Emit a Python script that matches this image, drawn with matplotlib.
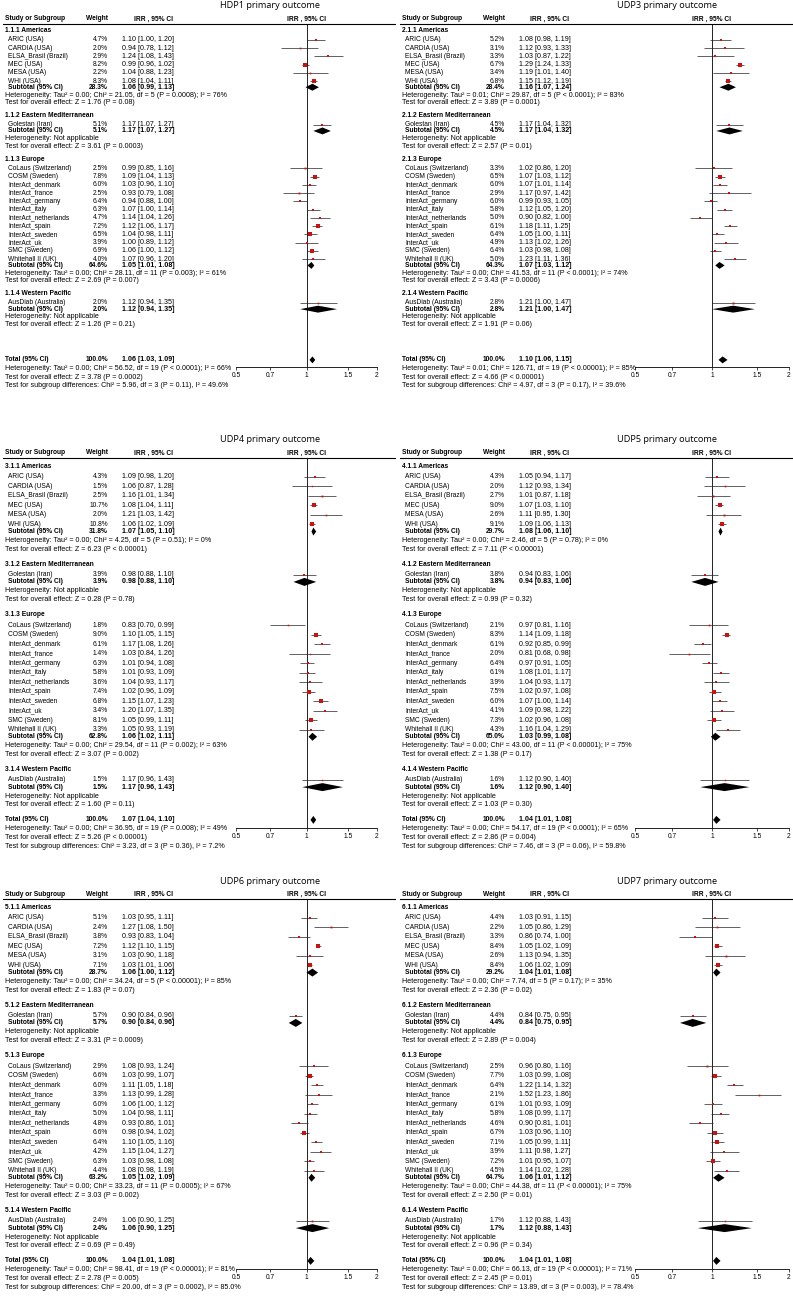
import matplotlib
matplotlib.use('Agg')
import matplotlib.pyplot as plt
from matplotlib.ticker import FixedLocator, NullLocator, FixedFormatter

plt.rcParams['font.family'] = ['Liberation Sans', 'DejaVu Sans']

groups = ['Americas', 'Eastern Mediterranean', 'Europe', 'Western Pacific']
group_sizes = [6, 1, 12, 1]
studies = ['ARIC (USA)', 'CARDIA (USA)', 'ELSA_Brasil (Brazil)', 'MEC (USA)', 'MESA (USA)', 'WHI (USA)',
           'Golestan (Iran)',
           'CoLaus (Switzerland)', 'COSM (Sweden)', 'InterAct_denmark', 'InterAct_france',
           'InterAct_germany', 'InterAct_italy', 'InterAct_netherlands', 'InterAct_spain',
           'InterAct_sweden', 'InterAct_uk', 'SMC (Sweden)', 'Whitehall II (UK)',
           'AusDiab (Australia)']

# (weight %, IRR, lower, upper) for each study
hdp1 = [(4.7, 1.10, 1.00, 1.20), (2.0, 0.94, 0.78, 1.12), (2.9, 1.24, 1.08, 1.43), (8.2, 0.99, 0.96, 1.02),
        (2.2, 1.04, 0.88, 1.23), (8.3, 1.08, 1.04, 1.11),
        (5.1, 1.17, 1.07, 1.27),
        (2.5, 0.99, 0.85, 1.16), (7.8, 1.09, 1.04, 1.13), (6.0, 1.03, 0.96, 1.10), (2.5, 0.93, 0.79, 1.08),
        (6.4, 0.94, 0.88, 1.00), (6.3, 1.07, 1.00, 1.14), (4.7, 1.14, 1.04, 1.26), (7.2, 1.12, 1.06, 1.17),
        (6.5, 1.04, 0.98, 1.11), (3.9, 1.00, 0.89, 1.12), (6.9, 1.06, 1.00, 1.12), (4.0, 1.07, 0.96, 1.20),
        (2.0, 1.12, 0.94, 1.35)]
hdp1_pooled = [(28.3, 1.06, 0.99, 1.13), (5.1, 1.17, 1.07, 1.27), (64.6, 1.05, 1.01, 1.08),
               (2.0, 1.12, 0.94, 1.35), (100.0, 1.06, 1.03, 1.09)]
hdp1_het = ['Tau\u00b2 = 0.00; Chi\u00b2 = 21.05, df = 5 (P = 0.0008); I\u00b2 = 76%', None,
            'Tau\u00b2 = 0.00; Chi\u00b2 = 28.11, df = 11 (P = 0.003); I\u00b2 = 61%', None,
            'Tau\u00b2 = 0.00; Chi\u00b2 = 56.52, df = 19 (P < 0.0001); I\u00b2 = 66%']
hdp1_z = ['Z = 1.76 (P = 0.08)', 'Z = 3.61 (P = 0.0003)', 'Z = 2.69 (P = 0.007)',
          'Z = 1.26 (P = 0.21)', 'Z = 3.78 (P = 0.0002)']
hdp1_diff = 'Chi\u00b2 = 5.96, df = 3 (P = 0.11), I\u00b2 = 49.6%'

udp3 = [(5.2, 1.08, 0.98, 1.19), (3.1, 1.12, 0.93, 1.33), (3.3, 1.03, 0.87, 1.22), (6.7, 1.29, 1.24, 1.33),
        (3.4, 1.19, 1.01, 1.40), (6.8, 1.15, 1.12, 1.19),
        (4.5, 1.17, 1.04, 1.32),
        (3.3, 1.02, 0.86, 1.20), (6.5, 1.07, 1.03, 1.12), (6.0, 1.07, 1.01, 1.14), (2.9, 1.17, 0.97, 1.42),
        (6.0, 0.99, 0.93, 1.05), (5.8, 1.12, 1.05, 1.20), (5.0, 0.90, 0.82, 1.00), (6.1, 1.18, 1.11, 1.25),
        (6.4, 1.05, 1.00, 1.11), (4.9, 1.13, 1.02, 1.26), (6.4, 1.03, 0.98, 1.08), (5.0, 1.23, 1.11, 1.36),
        (2.8, 1.21, 1.00, 1.47)]
udp3_pooled = [(28.4, 1.16, 1.07, 1.24), (4.5, 1.17, 1.04, 1.32), (64.3, 1.07, 1.03, 1.12),
               (2.8, 1.21, 1.00, 1.47), (100.0, 1.10, 1.06, 1.15)]
udp3_het = ['Tau\u00b2 = 0.01; Chi\u00b2 = 29.87, df = 5 (P < 0.0001); I\u00b2 = 83%', None,
            'Tau\u00b2 = 0.00; Chi\u00b2 = 41.53, df = 11 (P < 0.0001); I\u00b2 = 74%', None,
            'Tau\u00b2 = 0.01; Chi\u00b2 = 126.71, df = 19 (P < 0.00001); I\u00b2 = 85%']
udp3_z = ['Z = 3.89 (P = 0.0001)', 'Z = 2.57 (P = 0.01)', 'Z = 3.43 (P = 0.0006)',
          'Z = 1.91 (P = 0.06)', 'Z = 4.66 (P < 0.00001)']
udp3_diff = 'Chi\u00b2 = 4.97, df = 3 (P = 0.17), I\u00b2 = 39.6%'

udp4 = [(4.3, 1.09, 0.98, 1.20), (1.5, 1.06, 0.87, 1.28), (2.5, 1.16, 1.01, 1.34), (10.7, 1.08, 1.04, 1.11),
        (2.0, 1.21, 1.03, 1.42), (10.8, 1.06, 1.02, 1.09),
        (3.9, 0.98, 0.88, 1.10),
        (1.8, 0.83, 0.70, 0.99), (9.0, 1.10, 1.05, 1.15), (6.1, 1.17, 1.08, 1.26), (1.4, 1.03, 0.84, 1.26),
        (6.3, 1.01, 0.94, 1.08), (5.8, 1.01, 0.93, 1.09), (3.6, 1.04, 0.93, 1.17), (7.4, 1.02, 0.96, 1.09),
        (6.8, 1.15, 1.07, 1.23), (3.4, 1.20, 1.07, 1.35), (8.1, 1.05, 0.99, 1.11), (3.3, 1.05, 0.93, 1.19),
        (1.5, 1.17, 0.96, 1.43)]
udp4_pooled = [(31.8, 1.07, 1.05, 1.10), (3.9, 0.98, 0.88, 1.10), (62.8, 1.06, 1.02, 1.11),
               (1.5, 1.17, 0.96, 1.43), (100.0, 1.07, 1.04, 1.10)]
udp4_het = ['Tau\u00b2 = 0.00; Chi\u00b2 = 4.25, df = 5 (P = 0.51); I\u00b2 = 0%', None,
            'Tau\u00b2 = 0.00; Chi\u00b2 = 29.54, df = 11 (P = 0.002); I\u00b2 = 63%', None,
            'Tau\u00b2 = 0.00; Chi\u00b2 = 36.95, df = 19 (P = 0.008); I\u00b2 = 49%']
udp4_z = ['Z = 6.23 (P < 0.00001)', 'Z = 0.28 (P = 0.78)', 'Z = 3.07 (P = 0.002)',
          'Z = 1.60 (P = 0.11)', 'Z = 5.26 (P < 0.00001)']
udp4_diff = 'Chi\u00b2 = 3.23, df = 3 (P = 0.36), I\u00b2 = 7.2%'

udp5 = [(4.3, 1.05, 0.94, 1.17), (2.0, 1.12, 0.93, 1.34), (2.7, 1.01, 0.87, 1.18), (9.0, 1.07, 1.03, 1.10),
        (2.6, 1.11, 0.95, 1.30), (9.1, 1.09, 1.06, 1.13),
        (3.8, 0.94, 0.83, 1.06),
        (2.1, 0.97, 0.81, 1.16), (8.3, 1.14, 1.09, 1.18), (6.1, 0.92, 0.85, 0.99), (2.0, 0.81, 0.68, 0.98),
        (6.4, 0.97, 0.91, 1.05), (6.1, 1.08, 1.01, 1.17), (3.9, 1.04, 0.93, 1.17), (7.5, 1.02, 0.97, 1.08),
        (6.0, 1.07, 1.00, 1.14), (4.1, 1.09, 0.98, 1.22), (7.3, 1.02, 0.96, 1.08), (4.3, 1.16, 1.04, 1.29),
        (1.6, 1.12, 0.90, 1.40)]
udp5_pooled = [(29.7, 1.08, 1.06, 1.10), (3.8, 0.94, 0.83, 1.06), (65.0, 1.03, 0.99, 1.08),
               (1.6, 1.12, 0.90, 1.40), (100.0, 1.04, 1.01, 1.08)]
udp5_het = ['Tau\u00b2 = 0.00; Chi\u00b2 = 2.46, df = 5 (P = 0.78); I\u00b2 = 0%', None,
            'Tau\u00b2 = 0.00; Chi\u00b2 = 43.00, df = 11 (P < 0.00001); I\u00b2 = 75%', None,
            'Tau\u00b2 = 0.00; Chi\u00b2 = 54.17, df = 19 (P < 0.0001); I\u00b2 = 65%']
udp5_z = ['Z = 7.11 (P < 0.00001)', 'Z = 0.99 (P = 0.32)', 'Z = 1.38 (P = 0.17)',
          'Z = 1.03 (P = 0.30)', 'Z = 2.86 (P = 0.004)']
udp5_diff = 'Chi\u00b2 = 7.46, df = 3 (P = 0.06), I\u00b2 = 59.8%'

udp6 = [(5.1, 1.03, 0.95, 1.11), (2.4, 1.27, 1.08, 1.50), (3.8, 0.93, 0.83, 1.04), (7.2, 1.12, 1.10, 1.15),
        (3.1, 1.03, 0.90, 1.18), (7.1, 1.03, 1.01, 1.06),
        (5.7, 0.90, 0.84, 0.96),
        (2.9, 1.08, 0.93, 1.24), (6.6, 1.03, 0.99, 1.07), (6.0, 1.11, 1.05, 1.18), (3.3, 1.13, 0.99, 1.28),
        (6.0, 1.06, 1.00, 1.12), (5.0, 1.04, 0.98, 1.11), (4.8, 0.93, 0.86, 1.01), (6.6, 0.98, 0.94, 1.02),
        (6.4, 1.10, 1.05, 1.16), (4.2, 1.15, 1.04, 1.27), (6.3, 1.03, 0.98, 1.08), (4.4, 1.08, 0.98, 1.19),
        (2.4, 1.06, 0.90, 1.25)]
udp6_pooled = [(28.7, 1.06, 1.00, 1.12), (5.7, 0.90, 0.84, 0.96), (63.2, 1.05, 1.02, 1.09),
               (2.4, 1.06, 0.90, 1.25), (100.0, 1.04, 1.01, 1.08)]
udp6_het = ['Tau\u00b2 = 0.00; Chi\u00b2 = 34.24, df = 5 (P < 0.00001); I\u00b2 = 85%', None,
            'Tau\u00b2 = 0.00; Chi\u00b2 = 33.23, df = 11 (P = 0.0005); I\u00b2 = 67%', None,
            'Tau\u00b2 = 0.00; Chi\u00b2 = 98.41, df = 19 (P < 0.00001); I\u00b2 = 81%']
udp6_z = ['Z = 1.83 (P = 0.07)', 'Z = 3.31 (P = 0.0009)', 'Z = 3.03 (P = 0.002)',
          'Z = 0.69 (P = 0.49)', 'Z = 2.78 (P = 0.005)']
udp6_diff = 'Chi\u00b2 = 20.00, df = 3 (P = 0.0002), I\u00b2 = 85.0%'

udp7 = [(4.4, 1.03, 0.91, 1.15), (2.2, 1.05, 0.86, 1.29), (3.3, 0.86, 0.74, 1.00), (8.4, 1.05, 1.02, 1.09),
        (2.6, 1.13, 0.94, 1.35), (8.4, 1.06, 1.02, 1.09),
        (4.4, 0.84, 0.75, 0.95),
        (2.5, 0.96, 0.80, 1.16), (7.7, 1.03, 0.99, 1.08), (6.4, 1.22, 1.14, 1.32), (2.1, 1.52, 1.23, 1.86),
        (6.1, 1.01, 0.93, 1.09), (5.8, 1.08, 0.99, 1.17), (4.6, 0.90, 0.81, 1.01), (6.7, 1.03, 0.96, 1.10),
        (7.1, 1.05, 0.99, 1.11), (3.9, 1.11, 0.98, 1.27), (7.2, 1.01, 0.95, 1.07), (4.5, 1.14, 1.02, 1.28),
        (1.7, 1.12, 0.88, 1.43)]
udp7_pooled = [(29.2, 1.04, 1.01, 1.08), (4.4, 0.84, 0.75, 0.95), (64.7, 1.06, 1.01, 1.12),
               (1.7, 1.12, 0.88, 1.43), (100.0, 1.04, 1.01, 1.08)]
udp7_het = ['Tau\u00b2 = 0.00; Chi\u00b2 = 7.74, df = 5 (P = 0.17); I\u00b2 = 35%', None,
            'Tau\u00b2 = 0.00; Chi\u00b2 = 44.38, df = 11 (P < 0.00001); I\u00b2 = 75%', None,
            'Tau\u00b2 = 0.00; Chi\u00b2 = 66.13, df = 19 (P < 0.00001); I\u00b2 = 71%']
udp7_z = ['Z = 2.36 (P = 0.02)', 'Z = 2.89 (P = 0.004)', 'Z = 2.50 (P = 0.01)',
          'Z = 0.96 (P = 0.34)', 'Z = 2.45 (P = 0.01)']
udp7_diff = 'Chi\u00b2 = 13.89, df = 3 (P = 0.003), I\u00b2 = 78.4%'

outcomes = [
    ('HDP1 primary outcome', hdp1, hdp1_pooled, hdp1_het, hdp1_z, hdp1_diff),
    ('UDP3 primary outcome', udp3, udp3_pooled, udp3_het, udp3_z, udp3_diff),
    ('UDP4 primary outcome', udp4, udp4_pooled, udp4_het, udp4_z, udp4_diff),
    ('UDP5 primary outcome', udp5, udp5_pooled, udp5_het, udp5_z, udp5_diff),
    ('UDP6 primary outcome', udp6, udp6_pooled, udp6_het, udp6_z, udp6_diff),
    ('UDP7 primary outcome', udp7, udp7_pooled, udp7_het, udp7_z, udp7_diff),
]

W, H = 793, 1299
FS = 4.8      # names, headers
FS2 = 5.1     # numbers and statistics lines
SQ_COL = '#cc1111'

fig = plt.figure(figsize=(W / 100, H / 100), dpi=100)


def fmt_ci(e, l, h):
    return '%.2f [%.2f, %.2f]' % (e, l, h)


def draw_panel(num, ox, oy, fx0, fx1, title, rows, pooled, het, z, diff, U, hy, tgap, title_y, tstep):
    ph = 425
    # layout rows (in row units from header)
    y = 1.42
    layout = []
    k = 0
    for g in range(4):
        if g > 0:
            y += 1.6
        layout.append(('group', y, g))
        y += 1.1
        for i in range(group_sizes[g]):
            layout.append(('study', y, k))
            k += 1
            y += 1
        y -= 0.25
        layout.append(('sub', y, g))
        y += 0.95
        layout.append(('het', y, g))
        y += 0.9
        layout.append(('z', y, g))
    y += tgap
    total_y = y
    layout.append(('sub', y, 4))
    y += tstep
    layout.append(('het', y, 4))
    y += tstep
    layout.append(('z', y, 4))
    y += tstep
    layout.append(('diff', y, 4))
    axis_y = total_y + 0.9

    tab = fig.add_axes([ox / W, 1 - (oy + ph) / H, 396 / W, ph / H])
    tab.set_xlim(0, 396)
    tab.set_ylim((ph - hy) / U, -hy / U)
    tab.axis('off')

    fp = fig.add_axes([(ox + fx0) / W, 1 - (oy + hy + axis_y * U) / H,
                       (fx1 - fx0) / W, (axis_y - 0.55) * U / H])
    fp.set_xscale('log')
    fp.set_xlim(0.5, 2)
    fp.set_ylim(axis_y, 0.55)
    for s in ['top', 'left', 'right']:
        fp.spines[s].set_visible(False)
    fp.spines['bottom'].set_linewidth(0.6)
    fp.patch.set_alpha(0)
    fp.set_yticks([])
    fp.xaxis.set_major_locator(FixedLocator([0.5, 0.7, 1, 1.5, 2]))
    fp.xaxis.set_major_formatter(FixedFormatter(['0.5', '0.7', '1', '1.5', '2']))
    fp.xaxis.set_minor_locator(NullLocator())
    fp.tick_params(axis='x', labelsize=FS, length=2, width=0.5, pad=1.5)
    fp.axvline(1, color='black', lw=0.6)

    # title and header
    tab.text(270, (title_y - hy) / U, title, ha='center', va='center', fontsize=6.6,
             family=['Open Sans'])
    tab.text(5, 0, 'Study or Subgroup', fontsize=FS, fontweight='bold', va='center')
    tab.text(108, 0, 'Weight', fontsize=FS, fontweight='bold', va='center', ha='right')
    tab.text(153, 0, 'IRR , 95% CI', fontsize=FS, fontweight='bold', va='center', ha='center')
    fp.text(1.0, 0, 'IRR , 95% CI', fontsize=FS, fontweight='bold', va='center', ha='center')
    tab.plot([3, 395], [0.55, 0.55], color='black', lw=0.8)

    for kind, yy, idx in layout:
        if kind == 'group':
            tab.text(5, yy, '%d.1.%d %s' % (num, idx + 1, groups[idx]), fontsize=FS,
                     fontweight='bold', va='center')
        elif kind == 'study':
            w, e, l, h = rows[idx]
            tab.text(8, yy, studies[idx], fontsize=FS, va='center')
            tab.text(108, yy, '%.1f%%' % w, fontsize=FS, va='center', ha='right')
            tab.text(122, yy, fmt_ci(e, l, h), fontsize=FS2, va='center')
            fp.hlines(yy, l, h, color='#222222', lw=0.5)
            fp.plot(e, yy, marker='s', color=SQ_COL, ms=0.85 * w ** 0.5, mew=0, ls='none')
        elif kind == 'sub':
            w, e, l, h = pooled[idx]
            lab = 'Total (95% CI)' if idx == 4 else 'Subtotal (95% CI)'
            tab.text(8 if idx < 4 else 5, yy, lab, fontsize=FS, fontweight='bold', va='center')
            tab.text(108, yy, '%.1f%%' % w, fontsize=FS, fontweight='bold', va='center', ha='right')
            tab.text(122, yy, fmt_ci(e, l, h), fontsize=FS2, fontweight='bold', va='center')
            fp.fill([l, e, h, e], [yy, yy - 0.42, yy, yy + 0.42], color='black', lw=0)
        elif kind == 'het':
            s = het[idx]
            txt = 'Heterogeneity: Not applicable' if s is None else 'Heterogeneity: ' + s
            tab.text(5, yy, txt, fontsize=FS2, va='center')
        elif kind == 'z':
            tab.text(5, yy, 'Test for overall effect: ' + z[idx], fontsize=FS2, va='center')
        elif kind == 'diff':
            tab.text(5, yy, 'Test for subgroup differences: ' + diff, fontsize=FS2, va='center')


# per row of panels: top offset, px per row, header y, gap before total, title y, step of total lines
row_setup = [(0, 8.25, 19, 4.3, 6, 1.05), (432, 9.5, 21, 1.6, 8, 0.92), (873, 9.5, 21, 1.6, 8, 0.92)]
for n, (title, rows, pooled, het, z, diff) in enumerate(outcomes):
    col = n % 2
    oy, U, hy, tgap, ty, ts = row_setup[n // 2]
    if col == 0:
        draw_panel(n + 1, 0, oy, 236, 377, title, rows, pooled, het, z, diff, U, hy, tgap, ty, ts)
    else:
        draw_panel(n + 1, 397, oy, 238, 392, title, rows, pooled, het, z, diff, U, hy, tgap, ty, ts)

fig.savefig('out.png', dpi=100)
